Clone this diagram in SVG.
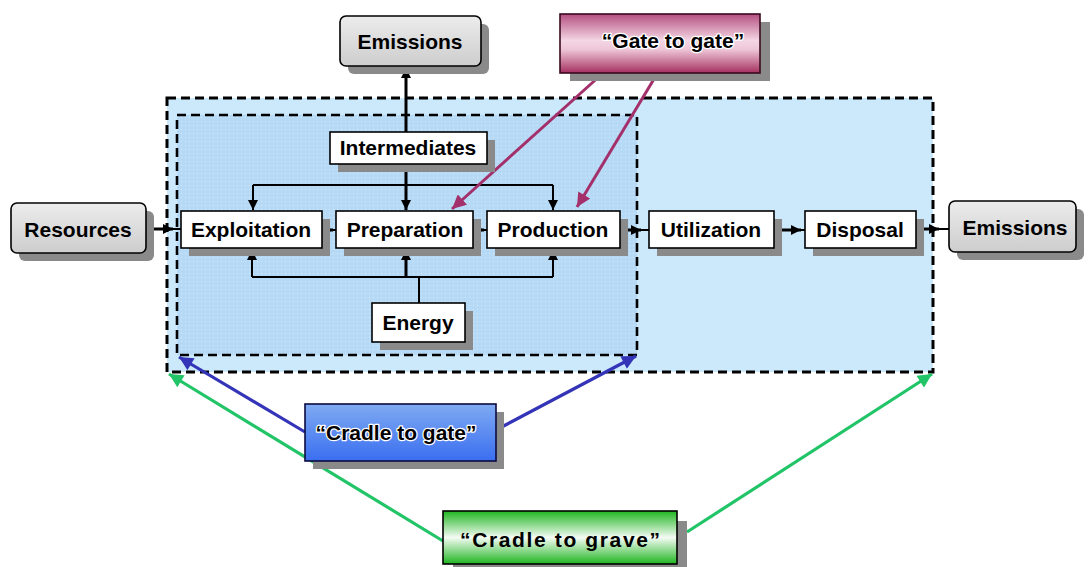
<svg xmlns="http://www.w3.org/2000/svg" width="1088" height="567" viewBox="0 0 1088 567">
<style>
.t{font-family:"Liberation Sans",Arial,sans-serif;font-weight:bold;font-size:21px;fill:#000;text-anchor:middle}
.halo{stroke:#fff;stroke-width:2.5px;paint-order:stroke;stroke-linejoin:round}
.box{fill:#fff;stroke:#000;stroke-width:1.6}
.gbox{fill:url(#gGray);stroke:#000;stroke-width:1.6}
.sh{fill:#8a8a8a}
.flow{stroke:#000;stroke-width:3;fill:none}
.thin{stroke:#000;stroke-width:2;fill:none}
.mag{stroke:#a3306b;stroke-width:3;fill:none}
.blu{stroke:#3434b8;stroke-width:3.2;fill:none}
.grn{stroke:#22c468;stroke-width:3.2;fill:none}
</style>
<defs>
<linearGradient id="gGray" x1="0" y1="0" x2="0" y2="1">
<stop offset="0" stop-color="#ececec"/><stop offset="1" stop-color="#cdcdcd"/>
</linearGradient>
<linearGradient id="gPink" x1="0" y1="0" x2="0" y2="1">
<stop offset="0" stop-color="#b44f80"/><stop offset="0.45" stop-color="#f4d6e4"/><stop offset="0.6" stop-color="#eec6d8"/><stop offset="1" stop-color="#a5305f"/>
</linearGradient>
<linearGradient id="gBlue" x1="0" y1="0" x2="0" y2="1">
<stop offset="0" stop-color="#80aaf2"/><stop offset="1" stop-color="#3a6ef0"/>
</linearGradient>
<linearGradient id="gGreen" x1="0" y1="0" x2="0" y2="1">
<stop offset="0" stop-color="#1fb51f"/><stop offset="0.5" stop-color="#f4fbf4"/><stop offset="1" stop-color="#1fb51f"/>
</linearGradient>
<pattern id="dots" width="4" height="4" patternUnits="userSpaceOnUse">
<rect width="4" height="4" fill="#b6daf6"/><rect x="1" y="1" width="1" height="1" fill="#d4eafb"/>
</pattern>
<marker id="aK" viewBox="0 0 10 10" refX="10" refY="5" markerWidth="10" markerHeight="10" markerUnits="userSpaceOnUse" orient="auto">
<path d="M0,0 L10,5 L0,10 z" fill="#000"/>
</marker>
<marker id="aM" viewBox="0 0 10 10" refX="10" refY="5" markerWidth="15" markerHeight="14" markerUnits="userSpaceOnUse" orient="auto">
<path d="M0,0 L10,5 L0,10 z" fill="#a3306b"/>
</marker>
<marker id="aB" viewBox="0 0 10 10" refX="10" refY="5" markerWidth="16" markerHeight="14" markerUnits="userSpaceOnUse" orient="auto">
<path d="M0,0 L10,5 L0,10 z" fill="#3434b8"/>
</marker>
<marker id="aG" viewBox="0 0 10 10" refX="10" refY="5" markerWidth="16" markerHeight="14" markerUnits="userSpaceOnUse" orient="auto">
<path d="M0,0 L10,5 L0,10 z" fill="#22c468"/>
</marker>
</defs>

<g id="scope-grave">
<rect x="167" y="98" width="766" height="274" fill="#cce9fb" stroke="#000" stroke-width="3" stroke-dasharray="9 5"/>
</g>
<g id="scope-gate">
<rect x="177" y="115" width="460" height="240" fill="url(#dots)" stroke="#000" stroke-width="2.6" stroke-dasharray="9 5"/>
</g>

<g id="connectors">
<path class="flow" d="M406 132 L406 68" marker-end="url(#aK)"/>
<path class="flow" d="M406 164 L406 210" marker-end="url(#aK)"/>
<path class="thin" d="M253 185 L553 185"/>
<path class="thin" d="M253 185 L253 210" marker-end="url(#aK)"/>
<path class="thin" d="M553 185 L553 210" marker-end="url(#aK)"/>
<path class="thin" d="M419 303 L419 277"/>
<path class="thin" d="M252 277 L553 277"/>
<path class="thin" d="M252 277 L252 250" marker-end="url(#aK)"/>
<path class="flow" d="M406 277 L406 250" marker-end="url(#aK)"/>
<path class="thin" d="M553 277 L553 250" marker-end="url(#aK)"/>
<path class="flow" d="M147 229 L173 229" marker-end="url(#aK)"/>
<path class="thin" d="M170 229 L181 229"/>
<path class="flow" d="M322 230 L333 230" marker-end="url(#aK)"/>
<path class="thin" d="M330 230 L336 230"/>
<path class="flow" d="M473 230 L484 230" marker-end="url(#aK)"/>
<path class="thin" d="M481 230 L487 230"/>
<path class="flow" d="M620 230 L641 230" marker-end="url(#aK)"/>
<path class="thin" d="M638 230 L649 230"/>
<path class="flow" d="M774 230 L801 230" marker-end="url(#aK)"/>
<path class="thin" d="M798 230 L805 230"/>
<path class="flow" d="M916 229 L939 229" marker-end="url(#aK)"/>
<path class="thin" d="M936 229 L949 229"/>
<path class="mag" d="M602 74 L452 209" marker-end="url(#aM)"/>
<path class="mag" d="M657 74 L577 207" marker-end="url(#aM)"/>
<path class="blu" d="M305 432 L179 357" marker-end="url(#aB)"/>
<path class="blu" d="M496 430 L636 356" marker-end="url(#aB)"/>
<path class="grn" d="M443 541 L169 374" marker-end="url(#aG)"/>
<path class="grn" d="M687 532 L932 374" marker-end="url(#aG)"/>
</g>

<g id="emissions-top">
<rect class="sh" x="348" y="24" width="141" height="50" rx="6"/>
<rect class="gbox" x="340" y="16" width="141" height="50" rx="6"/>
<text class="t" x="410" y="49">Emissions</text>
</g>
<g id="gate-to-gate">
<rect class="sh" x="570" y="22" width="200" height="59"/>
<rect x="560" y="14" width="200" height="59" fill="url(#gPink)" stroke="#3a0a20" stroke-width="1.6"/>
<text class="t halo" x="673" y="48">“Gate to gate”</text>
</g>
<g id="intermediates">
<rect class="sh" x="338" y="140" width="157" height="32"/>
<rect class="box" x="330" y="132" width="157" height="32"/>
<text class="t" x="408" y="155">Intermediates</text>
</g>
<g id="resources">
<rect class="sh" x="19" y="211" width="135" height="50" rx="6"/>
<rect class="gbox" x="11" y="203" width="135" height="50" rx="6"/>
<text class="t" x="78" y="237">Resources</text>
</g>
<g id="exploitation">
<rect class="sh" x="189" y="219" width="141" height="37"/>
<rect class="box" x="181" y="211" width="141" height="37"/>
<text class="t" x="251" y="237">Exploitation</text>
</g>
<g id="preparation">
<rect class="sh" x="344" y="219" width="137" height="37"/>
<rect class="box" x="336" y="211" width="137" height="37"/>
<text class="t" x="405" y="237">Preparation</text>
</g>
<g id="production">
<rect class="sh" x="495" y="219" width="133" height="37"/>
<rect class="box" x="487" y="211" width="133" height="37"/>
<text class="t" x="553" y="237">Production</text>
</g>
<g id="utilization">
<rect class="sh" x="657" y="219" width="125" height="37"/>
<rect class="box" x="649" y="211" width="125" height="37"/>
<text class="t" x="711" y="237">Utilization</text>
</g>
<g id="disposal">
<rect class="sh" x="813" y="219" width="111" height="37"/>
<rect class="box" x="805" y="211" width="111" height="37"/>
<text class="t" x="860" y="237">Disposal</text>
</g>
<g id="emissions-right">
<rect class="sh" x="957" y="209" width="127" height="51" rx="6"/>
<rect class="gbox" x="949" y="201" width="127" height="51" rx="6"/>
<text class="t" x="1015" y="235">Emissions</text>
</g>
<g id="energy">
<rect class="sh" x="380" y="311" width="93" height="39"/>
<rect class="box" x="372" y="303" width="93" height="39"/>
<text class="t" x="418" y="330">Energy</text>
</g>
<g id="cradle-to-gate">
<rect class="sh" x="313" y="412" width="191" height="57"/>
<rect x="305" y="404" width="191" height="57" fill="url(#gBlue)" stroke="#0a0a40" stroke-width="1.6"/>
<text class="t halo" x="396" y="440" font-size="20">“Cradle to gate”</text>
</g>
<g id="cradle-to-grave">
<rect class="sh" x="453" y="521" width="234" height="53"/>
<rect x="443" y="511" width="234" height="53" fill="url(#gGreen)" stroke="#000" stroke-width="1.6"/>
<text class="t" x="560" y="547" textLength="200" lengthAdjust="spacing">“Cradle to grave”</text>
</g>
</svg>
